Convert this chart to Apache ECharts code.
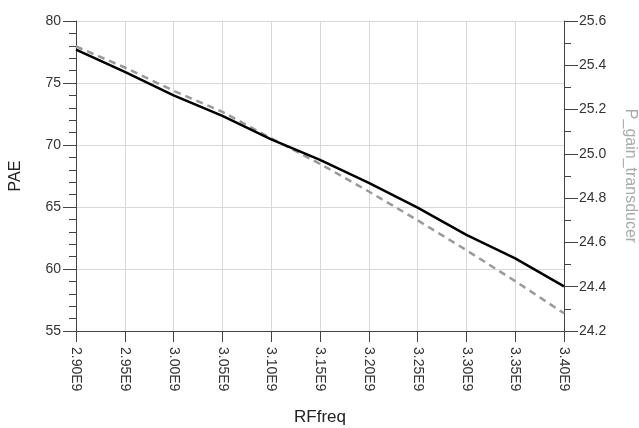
<!DOCTYPE html>
<html>
<head>
<meta charset="utf-8">
<script src="https://cdn.jsdelivr.net/npm/echarts@6/dist/echarts.min.js"></script>
<style>html,body{margin:0;padding:0;background:#fff}#c{width:639px;height:428px}</style>
</head>
<body>
<div id="c"></div>
<script>
var freq = [2.90e9, 2.95e9, 3.00e9, 3.05e9, 3.10e9, 3.15e9, 3.20e9, 3.25e9, 3.30e9, 3.35e9, 3.40e9];
var pae = [77.7, 75.9, 74.0, 72.35, 70.45, 68.8, 66.95, 64.95, 62.75, 60.85, 58.6];
var gain = [25.485, 25.39, 25.285, 25.19, 25.07, 24.955, 24.83, 24.70, 24.565, 24.425, 24.28];

var font = 'Liberation Sans, Arial, sans-serif';
var chart = echarts.init(document.getElementById('c'));
chart.setOption({
  animation: false,
  grid: {left: 76, right: 75, top: 21, bottom: 97, containLabel: false, outerBoundsMode: 'none'},
  xAxis: {
    type: 'value', min: 2.9e9, max: 3.4e9, interval: 0.05e9,
    name: 'RFfreq', nameLocation: 'middle', nameGap: 78,
    nameTextStyle: {fontFamily: font, fontSize: 17, color: '#222'},
    axisLine: {show: true, onZero: false, lineStyle: {color: '#444', width: 1}},
    axisTick: {show: true, length: 11, lineStyle: {color: '#444'}},
    axisLabel: {rotate: -90, margin: 16, fontFamily: font, fontSize: 14, color: '#333',
      showMinLabel: true, showMaxLabel: true,
      formatter: function (v) { return (v / 1e9).toFixed(2) + 'E9'; }},
    splitLine: {show: true, lineStyle: {color: '#d9d9d9', width: 1}}
  },
  yAxis: [{
    type: 'value', min: 55, max: 80, interval: 5, position: 'left',
    name: 'PAE', nameLocation: 'middle', nameGap: 52,
    nameTextStyle: {fontFamily: font, fontSize: 16, color: '#222'},
    axisLine: {show: true, lineStyle: {color: '#444', width: 1}},
    axisTick: {show: true, length: 13, lineStyle: {color: '#444'}},
    minorTick: {show: true, splitNumber: 5, length: 7, lineStyle: {color: '#444'}},
    axisLabel: {margin: 15, fontFamily: font, fontSize: 14, color: '#333'},
    splitLine: {show: true, lineStyle: {color: '#d9d9d9', width: 1}}
  }, {
    type: 'value', min: 24.2, max: 25.6, interval: 0.2, position: 'right',
    name: 'P_gain_transducer', nameLocation: 'middle', nameGap: 58, nameRotate: -90,
    nameTextStyle: {fontFamily: font, fontSize: 16, color: '#aaa'},
    axisLine: {show: true, lineStyle: {color: '#444', width: 1}},
    axisTick: {show: true, length: 14, lineStyle: {color: '#444'}},
    minorTick: {show: true, splitNumber: 2, length: 7, lineStyle: {color: '#444'}},
    axisLabel: {margin: 15, fontFamily: font, fontSize: 14, color: '#333',
      formatter: function (v) { return v.toFixed(1); }},
    splitLine: {show: false}
  }],
  series: [{
    type: 'line', yAxisIndex: 1, symbol: 'none',
    data: freq.map(function (f, i) { return [f, gain[i]]; }),
    lineStyle: {color: '#9a9a9a', width: 2.5, type: [7, 5]}
  }, {
    type: 'line', yAxisIndex: 0, symbol: 'none',
    data: freq.map(function (f, i) { return [f, pae[i]]; }),
    lineStyle: {color: '#000', width: 2.5}
  }]
});
</script>
</body>
</html>
